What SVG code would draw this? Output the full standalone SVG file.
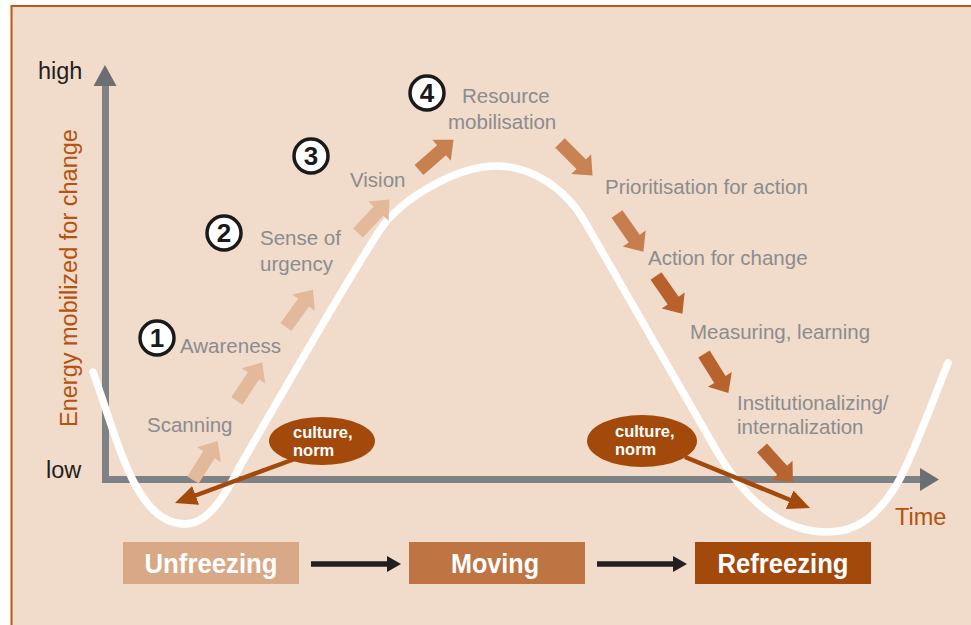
<svg xmlns="http://www.w3.org/2000/svg" width="971" height="625" viewBox="0 0 971 625">
<defs>
<style>
.lbl{font-family:"Liberation Sans",Arial,sans-serif;font-size:20.5px;fill:#8b8c8f}
.ax{font-family:"Liberation Sans",Arial,sans-serif;font-size:23.5px}
.num{font-family:"Liberation Sans",Arial,sans-serif;font-size:26px;font-weight:bold;fill:#1a1a1a;text-anchor:middle}
.ring{fill:#ffffff;stroke:#1a1a1a;stroke-width:3.5}
.cul{font-family:"Liberation Sans",Arial,sans-serif;font-size:16.5px;font-weight:bold;fill:#ffffff}
.box{font-family:"Liberation Sans",Arial,sans-serif;font-size:27px;font-weight:bold;fill:#ffffff;text-anchor:middle}
.conn{stroke:#a2490b;stroke-width:4.5;fill:none}
.blk{stroke:#231f20;stroke-width:5.5;fill:none}
</style>
<path id="ba" d="M0,-6.7 H30 V-14 L46,0 L30,14 V6.7 H0 Z"/>
<marker id="mh" viewBox="0 0 22 20" refX="6" refY="10" markerWidth="22" markerHeight="20" markerUnits="userSpaceOnUse" orient="auto">
<path d="M0,0 L22,10 L0,20 Z" fill="#a2490b"/>
</marker>
<marker id="mb" viewBox="0 0 14 16" refX="1" refY="8" markerWidth="14" markerHeight="16" markerUnits="userSpaceOnUse" orient="auto">
<path d="M0,0 L14,8 L0,16 Z" fill="#231f20"/>
</marker>
</defs>
<rect x="0" y="0" width="971" height="625" fill="#ffffff"/>
<rect x="11.5" y="6" width="1000" height="1000" fill="#f1dbca" stroke="#c0560f" stroke-width="2"/>

<g id="axes">
<path d="M105.5,85 V479.5 H920" fill="none" stroke="#808185" stroke-width="7"/>
<polygon points="93.5,86 105,65 116.5,86" fill="#6d6e71"/>
<polygon points="920,468 939,479.5 920,491" fill="#6d6e71"/>
<text class="ax" x="38" y="79" fill="#231f20">high</text>
<text class="ax" x="46" y="478" fill="#231f20">low</text>
<text class="ax" x="895" y="525" fill="#b4520f">Time</text>
<text class="ax" transform="translate(77,427) rotate(-90)" fill="#b4520f">Energy mobilized for change</text>
</g>

<g id="curve">
<path d="M93,372 C118,440 135,524 185,524 C205,524 222,503 240,466 C275,406 345,283 380,230 C400,200 455,166 497,166 C530,166 565,187 585,222 C620,283 680,387 715,448 C745,500 780,532 828,532 C858,532 878,515 897,484 C912,459 935,395 948,363" fill="none" stroke="#ffffff" stroke-width="7.5" stroke-linecap="round"/>
</g>

<g id="steps">
<use href="#ba" fill="#e3b99c" transform="translate(193,480) rotate(-57.7)"/>
<use href="#ba" fill="#e3b99c" transform="translate(237,401) rotate(-56.7)"/>
<use href="#ba" fill="#e3b99c" transform="translate(286,327) rotate(-54.2)"/>
<use href="#ba" fill="#e3b99c" transform="translate(358,233) rotate(-46.9)"/>
<use href="#ba" fill="#c8804f" transform="translate(419,170) rotate(-41.3)"/>
<use href="#ba" fill="#c98352" transform="translate(560,143) rotate(45)"/>
<use href="#ba" fill="#c67e4e" transform="translate(617,214) rotate(55)"/>
<use href="#ba" fill="#b8612b" transform="translate(656,276) rotate(55)"/>
<use href="#ba" fill="#b8632e" transform="translate(704,354) rotate(58)"/>
<use href="#ba" fill="#b66531" transform="translate(762,448) rotate(47.8)"/>
</g>

<g id="labels">
<text class="lbl" x="147" y="432">Scanning</text>
<text class="lbl" x="180" y="353">Awareness</text>
<text class="lbl" x="260" y="245">Sense of</text>
<text class="lbl" x="260" y="271">urgency</text>
<text class="lbl" x="350" y="187">Vision</text>
<text class="lbl" x="462" y="103">Resource</text>
<text class="lbl" x="448" y="129">mobilisation</text>
<text class="lbl" x="605" y="194">Prioritisation for action</text>
<text class="lbl" x="648" y="265">Action for change</text>
<text class="lbl" x="690" y="339">Measuring, learning</text>
<text class="lbl" x="737" y="410">Institutionalizing/</text>
<text class="lbl" x="737" y="434">internalization</text>
</g>

<g id="n1"><circle class="ring" cx="157" cy="338" r="17"/><text class="num" x="157" y="347">1</text></g>
<g id="n2"><circle class="ring" cx="224" cy="233" r="17"/><text class="num" x="224" y="242">2</text></g>
<g id="n3"><circle class="ring" cx="311" cy="156" r="17"/><text class="num" x="311" y="165">3</text></g>
<g id="n4"><circle class="ring" cx="427" cy="93" r="17"/><text class="num" x="427" y="102">4</text></g>

<g id="connectors">
<line class="conn" x1="300" y1="457" x2="190" y2="497.5" marker-end="url(#mh)"/>
<line class="conn" x1="685" y1="457" x2="795.2" y2="502" marker-end="url(#mh)"/>
<line class="blk" x1="311" y1="564" x2="388" y2="564" marker-end="url(#mb)"/>
<line class="blk" x1="597" y1="564" x2="674" y2="564" marker-end="url(#mb)"/>
</g>

<g id="culture1">
<ellipse cx="322" cy="441" rx="53" ry="24" fill="#a2490b"/>
<text class="cul" x="293" y="438">culture,</text>
<text class="cul" x="293" y="456">norm</text>
</g>
<g id="culture2">
<ellipse cx="642" cy="441" rx="55" ry="26" fill="#a2490b"/>
<text class="cul" x="615" y="437">culture,</text>
<text class="cul" x="615" y="455">norm</text>
</g>

<g id="unfreezing">
<rect x="123" y="542" width="176" height="42" fill="#d9a886"/>
<text class="box" x="211" y="573" textLength="133" lengthAdjust="spacingAndGlyphs">Unfreezing</text>
</g>
<g id="moving">
<rect x="409" y="542" width="176" height="42" fill="#bf7444"/>
<text class="box" x="495" y="573" textLength="88" lengthAdjust="spacingAndGlyphs">Moving</text>
</g>
<g id="refreezing">
<rect x="695" y="542" width="176" height="42" fill="#a3490c"/>
<text class="box" x="783" y="573" textLength="131" lengthAdjust="spacingAndGlyphs">Refreezing</text>
</g>
</svg>
